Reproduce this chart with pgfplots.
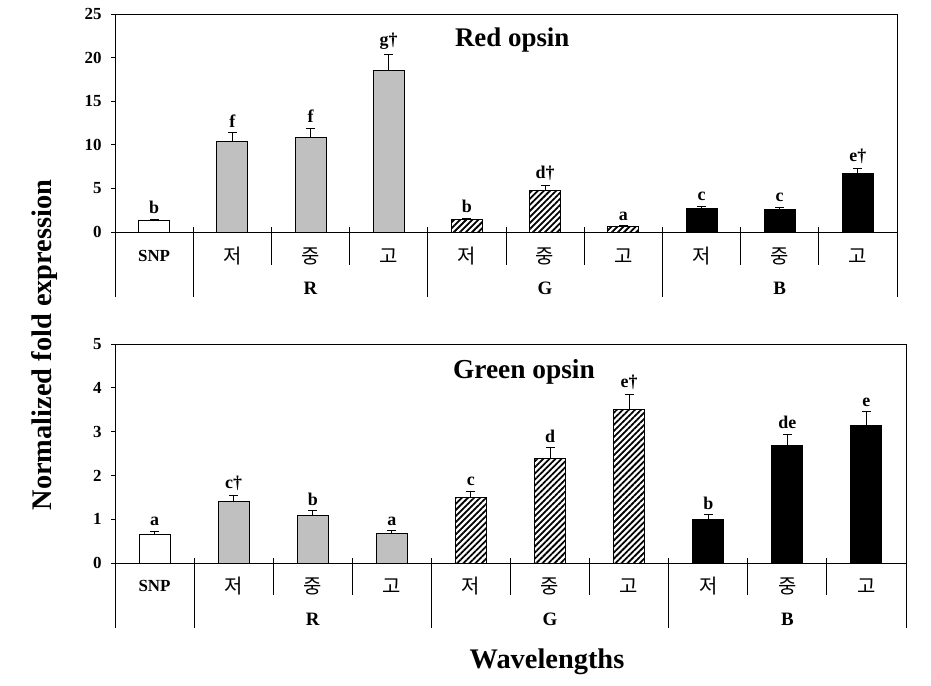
\documentclass[border=0pt]{standalone}
\usepackage{pgfplots}
\pgfplotsset{compat=1.18}
\usepackage{fontspec}
\setmainfont{Liberation Serif}
\newfontfamily\kr{Noto Sans CJK KR}
\usetikzlibrary{patterns.meta}
\definecolor{barGray}{RGB}{192,192,192}
\pgfplotsset{
  panel/.style={
    scale only axis, clip=false,
    xmin=-0.5, xmax=9.5,
    hide x axis,
    ytick pos=left, tick align=outside, major tick length=4bp,
    axis line style={line width=1bp}, every tick/.style={line width=1bp, black},
    /pgf/number format/assume math mode=true,
    yticklabel style={font=\fontsize{17}{17}\selectfont\bfseries, xshift=-6bp},
    ybar, bar width=31bp, bar shift=0pt,
    error bars/y dir=plus, error bars/y explicit,
    error bars/error bar style={line width=1bp, black},
    error bars/error mark options={line width=1bp, black, mark size=4.5bp, rotate=90},
  },
  snp/.style={draw=black, line width=1bp, fill=white},
  rr/.style={draw=black, line width=1bp, fill=barGray},
  gg/.style={draw=black, line width=1bp, pattern={Lines[angle=45, distance=4.3bp, line width=1.8bp]}},
  bb/.style={draw=black, line width=1bp, fill=black},
}
\tikzset{
  lett/.style={font=\fontsize{18}{18}\selectfont\bfseries, anchor=south, inner sep=1bp, yshift=4bp},
  cat/.style={font=\fontsize{17}{17}\selectfont\bfseries},
  kor/.style={font=\kr\fontsize{20}{20}\selectfont},
  grp/.style={font=\fontsize{19}{19}\selectfont\bfseries},
  sep/.style={line width=1bp},
}
\begin{document}
\begin{tikzpicture}
\path[use as bounding box] (0,0) rectangle (931bp,-686bp);
% ---------------- Red opsin ----------------
\begin{axis}[panel, at={(115bp,-14bp)}, anchor=north west,
  width=782bp, height=283bp, ymin=-7.45, ymax=25, ytick={0,5,...,25}]
\addplot[snp] coordinates {(0,1.30) +- (0,0.19)};
\addplot[rr] coordinates {(1,10.34) +- (0,1.10) (2,10.84) +- (0,1.07) (3,18.51) +- (0,1.80)};
\addplot[gg] coordinates {(4,1.41) +- (0,0.19) (5,4.77) +- (0,0.57) (6,0.65) +- (0,0.05)};
\addplot[bb] coordinates {(7,2.75) +- (0,0.23) (8,2.63) +- (0,0.23) (9,6.68) +- (0,0.57)};
\draw[sep] (axis cs:-0.5,25) -- (axis cs:9.5,25);
\draw[sep] (axis cs:-0.5,0) -- (axis cs:9.5,0);
\draw[sep] (axis cs:1.5,0.55) -- (axis cs:1.5,-3.8);
\draw[sep] (axis cs:2.5,0.55) -- (axis cs:2.5,-3.8);
\draw[sep] (axis cs:4.5,0.55) -- (axis cs:4.5,-3.8);
\draw[sep] (axis cs:5.5,0.55) -- (axis cs:5.5,-3.8);
\draw[sep] (axis cs:7.5,0.55) -- (axis cs:7.5,-3.8);
\draw[sep] (axis cs:8.5,0.55) -- (axis cs:8.5,-3.8);
\draw[sep] (axis cs:0.5,0.55) -- (axis cs:0.5,-7.45);
\draw[sep] (axis cs:3.5,0.55) -- (axis cs:3.5,-7.45);
\draw[sep] (axis cs:6.5,0.55) -- (axis cs:6.5,-7.45);
\node[cat] at (axis cs:0,-2.75) {SNP};
\node[kor] at (axis cs:1,-2.75) {저};
\node[kor] at (axis cs:2,-2.75) {중};
\node[kor] at (axis cs:3,-2.75) {고};
\node[kor] at (axis cs:4,-2.75) {저};
\node[kor] at (axis cs:5,-2.75) {중};
\node[kor] at (axis cs:6,-2.75) {고};
\node[kor] at (axis cs:7,-2.75) {저};
\node[kor] at (axis cs:8,-2.75) {중};
\node[kor] at (axis cs:9,-2.75) {고};
\node[grp] at (axis cs:2,-6.4) {R};
\node[grp] at (axis cs:5,-6.4) {G};
\node[grp] at (axis cs:8,-6.4) {B};
\node[lett] at (axis cs:0,1.49) {b};
\node[lett] at (axis cs:1,11.44) {f};
\node[lett] at (axis cs:2,11.91) {f};
\node[lett] at (axis cs:3,20.31) {g\textdagger};
\node[lett] at (axis cs:4,1.60) {b};
\node[lett] at (axis cs:5,5.34) {d\textdagger};
\node[lett] at (axis cs:6,0.70) {a};
\node[lett] at (axis cs:7,2.98) {c};
\node[lett] at (axis cs:8,2.86) {c};
\node[lett] at (axis cs:9,7.25) {e\textdagger};
\node[font=\fontsize{27}{27}\selectfont\bfseries] at (axis cs:4.58,22) {Red opsin};
\end{axis}
% ---------------- Green opsin ----------------
\begin{axis}[panel, at={(115bp,-344bp)}, anchor=north west,
  width=791bp, height=284bp, ymin=-1.484, ymax=5, ytick={0,1,...,5}]
\addplot[snp] coordinates {(0,0.65) +- (0,0.08)};
\addplot[rr] coordinates {(1,1.41) +- (0,0.13) (2,1.09) +- (0,0.11) (3,0.67) +- (0,0.07)};
\addplot[gg] coordinates {(4,1.50) +- (0,0.14) (5,2.39) +- (0,0.24) (6,3.51) +- (0,0.34)};
\addplot[bb] coordinates {(7,1.00) +- (0,0.11) (8,2.68) +- (0,0.26) (9,3.15) +- (0,0.30)};
\draw[sep] (axis cs:-0.5,5) -- (axis cs:9.5,5);
\draw[sep] (axis cs:-0.5,0) -- (axis cs:9.5,0);
\draw[sep] (axis cs:1.5,0.11) -- (axis cs:1.5,-0.73);
\draw[sep] (axis cs:2.5,0.11) -- (axis cs:2.5,-0.73);
\draw[sep] (axis cs:4.5,0.11) -- (axis cs:4.5,-0.73);
\draw[sep] (axis cs:5.5,0.11) -- (axis cs:5.5,-0.73);
\draw[sep] (axis cs:7.5,0.11) -- (axis cs:7.5,-0.73);
\draw[sep] (axis cs:8.5,0.11) -- (axis cs:8.5,-0.73);
\draw[sep] (axis cs:0.5,0.11) -- (axis cs:0.5,-1.484);
\draw[sep] (axis cs:3.5,0.11) -- (axis cs:3.5,-1.484);
\draw[sep] (axis cs:6.5,0.11) -- (axis cs:6.5,-1.484);
\node[cat] at (axis cs:0,-0.525) {SNP};
\node[kor] at (axis cs:1,-0.525) {저};
\node[kor] at (axis cs:2,-0.525) {중};
\node[kor] at (axis cs:3,-0.525) {고};
\node[kor] at (axis cs:4,-0.525) {저};
\node[kor] at (axis cs:5,-0.525) {중};
\node[kor] at (axis cs:6,-0.525) {고};
\node[kor] at (axis cs:7,-0.525) {저};
\node[kor] at (axis cs:8,-0.525) {중};
\node[kor] at (axis cs:9,-0.525) {고};
\node[grp] at (axis cs:2,-1.28) {R};
\node[grp] at (axis cs:5,-1.28) {G};
\node[grp] at (axis cs:8,-1.28) {B};
\node[lett] at (axis cs:0,0.73) {a};
\node[lett] at (axis cs:1,1.54) {c\textdagger};
\node[lett] at (axis cs:2,1.20) {b};
\node[lett] at (axis cs:3,0.74) {a};
\node[lett] at (axis cs:4,1.64) {c};
\node[lett] at (axis cs:5,2.63) {d};
\node[lett] at (axis cs:6,3.85) {e\textdagger};
\node[lett] at (axis cs:7,1.11) {b};
\node[lett] at (axis cs:8,2.94) {de};
\node[lett] at (axis cs:9,3.45) {e};
\node[font=\fontsize{27.5}{27.5}\selectfont\bfseries] at (axis cs:4.67,4.36) {Green opsin};
\end{axis}
\node[rotate=90, font=\fontsize{28.5}{28.5}\selectfont\bfseries] at (45bp,-345bp) {Normalized fold expression};
\node[font=\fontsize{28.5}{28.5}\selectfont\bfseries] at (547bp,-662bp) {Wavelengths};
\end{tikzpicture}
\end{document}
